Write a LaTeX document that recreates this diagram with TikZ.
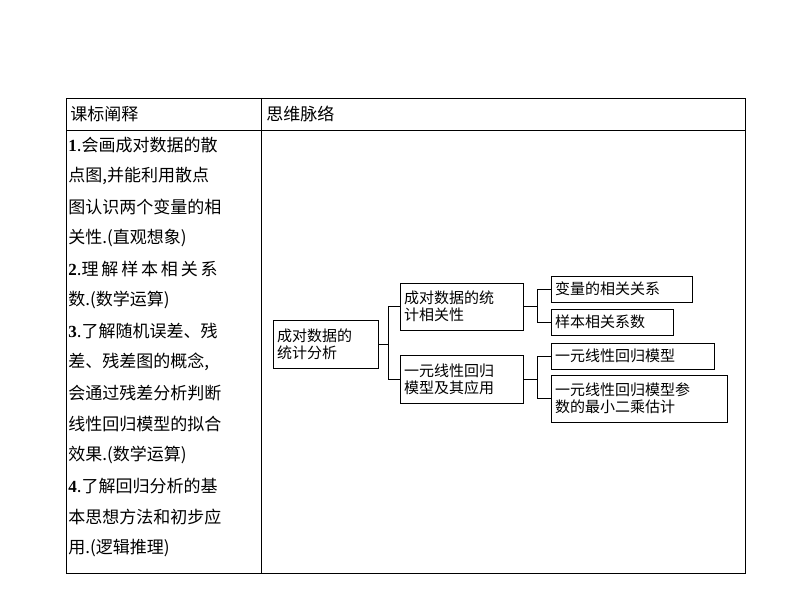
\documentclass[tikz,border=0pt]{standalone}
\usepackage{fontspec}
\setmainfont{Noto Sans CJK SC}
\newfontfamily\lat{Liberation Serif}
\usetikzlibrary{positioning}
\begin{document}
\begin{tikzpicture}[x=1pt, y=-1pt, line width=.8pt,
  box/.style={draw, align=left, inner xsep=4pt, inner ysep=2pt, font=\fontsize{15}{17}\selectfont},
  row/.style={anchor=west, inner sep=0pt, font=\fontsize{17}{20}\selectfont}]
  \useasboundingbox (0,0) rectangle (794,596);
  % table
  \draw (66,98) rectangle (745,573);
  \draw (66,130) -- (745,130);
  \draw (261,98) -- (261,573);
  \node[row] (h1) at (70,114) {课标阐释};
  \node[row] (h2) at (266,114) {思维脉络};
  % left column
  \node[row] (l1) at (68,145) {{\lat\bfseries 1}.会画成对数据的散};
  \node[row] (l2) at (68,176) {点图,并能利用散点};
  \node[row] (l3) at (68,207) {图认识两个变量的相};
  \node[row] (l4) at (68,238) {关性.(直观想象)};
  \node[row] (l5) at (68,269) {{\lat\bfseries 2}.理\,解\,样\,本\,相\,关\,系};
  \node[row] (l6) at (68,300) {数.(数学运算)};
  \node[row] (l7) at (68,331) {{\lat\bfseries 3}.了解随机误差、残};
  \node[row] (l8) at (68,362) {差、残差图的概念,};
  \node[row] (l9) at (68,393) {会通过残差分析判断};
  \node[row] (l10) at (68,424) {线性回归模型的拟合};
  \node[row] (l11) at (68,455) {效果.(数学运算)};
  \node[row] (l12) at (68,486) {{\lat\bfseries 4}.了解回归分析的基};
  \node[row] (l13) at (68,517) {本思想方法和初步应};
  \node[row] (l14) at (68,548) {用.(逻辑推理)};
  % mind map
  \node[box, text width=97pt, minimum height=48pt] (root) at (325.5,344) {成对数据的\\统计分析};
  \node[box, text width=115pt, minimum height=47pt] (corr) at (461.5,306.5) {成对数据的统\\计相关性};
  \node[box, text width=115pt, minimum height=48pt] (reg) at (461.5,379) {一元线性回归\\模型及其应用};
  \node[box, text width=133pt, minimum height=26pt] (a) at (621.5,289) {变量的相关关系};
  \node[box, text width=114pt, minimum height=26pt] (b) at (612,322) {样本相关系数};
  \node[box, text width=155pt, minimum height=26pt] (c) at (632.5,356) {一元线性回归模型};
  \node[box, text width=168pt, minimum height=47pt] (d) at (639,398.5) {一元线性回归模型参\\数的最小二乘估计};
  \coordinate (j1) at (388,344);
  \coordinate (j2) at (537,306.5);
  \coordinate (j3) at (537,379);
  \draw (root.east) -- (j1) (j1 |- corr.west) -- (j1 |- reg.west);
  \draw (j1 |- corr.west) -- (corr.west) (j1 |- reg.west) -- (reg.west);
  \draw (corr.east) -- (j2) (j2 |- a.west) -- (j2 |- b.west);
  \draw (j2 |- a.west) -- (a.west) (j2 |- b.west) -- (b.west);
  \draw (reg.east) -- (j3) (j3 |- c.west) -- (j3 |- d.west);
  \draw (j3 |- c.west) -- (c.west) (j3 |- d.west) -- (d.west);
\end{tikzpicture}
\end{document}
